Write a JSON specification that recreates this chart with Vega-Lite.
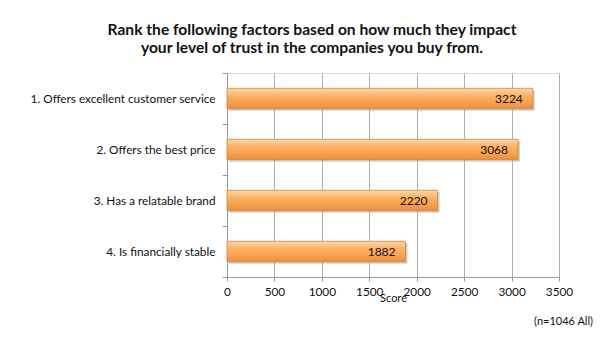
{
  "$schema": "https://vega.github.io/schema/vega-lite/v6.json",
  "width": 332,
  "height": 204,
  "autosize": {"type": "none"},
  "padding": {"left": 227, "top": 73, "right": 55, "bottom": 76},
  "background": "white",
  "title": {
    "text": ["Rank the following factors based on how much they impact", "your level of trust in the companies you buy from."],
    "anchor": "middle",
    "frame": "group",
    "dx": -81,
    "font": "Lato",
    "fontSize": 15.6,
    "fontWeight": "bold",
    "lineHeight": 18,
    "offset": 11,
    "color": "#111"
  },
  "data": {
    "values": [
      {"label": "1. Offers excellent customer service", "score": 3224},
      {"label": "2. Offers the best price", "score": 3068},
      {"label": "3. Has a relatable brand", "score": 2220},
      {"label": "4. Is financially stable", "score": 1882}
    ]
  },
  "layer": [
    {
      "mark": {"type": "bar", "height": {"band": 0.4}, "color": "#9a9a9a", "opacity": 0.45, "xOffset": 2, "yOffset": 2},
      "encoding": {
        "y": {
          "field": "label",
          "type": "nominal",
          "sort": null,
          "scale": {"paddingInner": 0, "paddingOuter": 0},
          "axis": {
            "title": null,
            "tickBand": "extent",
            "labelFont": "Lato",
            "labelFontSize": 11.8,
            "labelColor": "#111",
            "labelPadding": 7,
            "labelLimit": 300,
            "tickSize": 5,
            "tickColor": "#999",
            "domainColor": "#999",
            "grid": false
          }
        },
        "x": {
          "field": "score",
          "type": "quantitative",
          "scale": {"domain": [0, 3500]},
          "axis": {
            "values": [0, 500, 1000, 1500, 2000, 2500, 3000, 3500],
            "format": "d",
            "title": "Score",
            "titleFont": "Lato",
            "titleFontSize": 11,
            "titleFontWeight": "normal",
            "titleColor": "#111",
            "titlePadding": -5,
            "labelFont": "Lato",
            "labelFontSize": 11.8,
            "labelColor": "#111",
            "labelPadding": 5,
            "tickSize": 4,
            "tickColor": "#999",
            "domainColor": "#999",
            "grid": true,
            "gridColor": "#b0b0b0",
            "labelFlush": false
          }
        }
      }
    },
    {
      "mark": {
        "type": "bar",
        "height": {"band": 0.4},
        "stroke": "#cf8436",
        "strokeWidth": 0.8,
        "fill": {
          "gradient": "linear",
          "x1": 0, "y1": 0, "x2": 0, "y2": 1,
          "stops": [
            {"offset": 0, "color": "#fdd9ad"},
            {"offset": 0.35, "color": "#fbb366"},
            {"offset": 0.7, "color": "#f8a24e"},
            {"offset": 1, "color": "#e88f3b"}
          ]
        }
      },
      "encoding": {
        "y": {"field": "label", "type": "nominal", "sort": null},
        "x": {"field": "score", "type": "quantitative"}
      }
    },
    {
      "mark": {"type": "text", "align": "right", "baseline": "middle", "dx": -10, "font": "Lato", "fontSize": 12, "color": "#111"},
      "encoding": {
        "y": {"field": "label", "type": "nominal", "sort": null},
        "x": {"field": "score", "type": "quantitative"},
        "text": {"field": "score", "type": "quantitative", "format": "d"}
      }
    },
    {
      "data": {"values": [{"note": "(n=1046 All)", "pos": 3500, "row": "4. Is financially stable"}]},
      "mark": {"type": "text", "align": "right", "baseline": "middle", "dx": 34, "dy": 70, "font": "Lato", "fontSize": 11, "color": "#111"},
      "encoding": {
        "x": {"field": "pos", "type": "quantitative"},
        "y": {"field": "row", "type": "nominal", "sort": null},
        "text": {"field": "note", "type": "nominal"}
      }
    }
  ]
}
